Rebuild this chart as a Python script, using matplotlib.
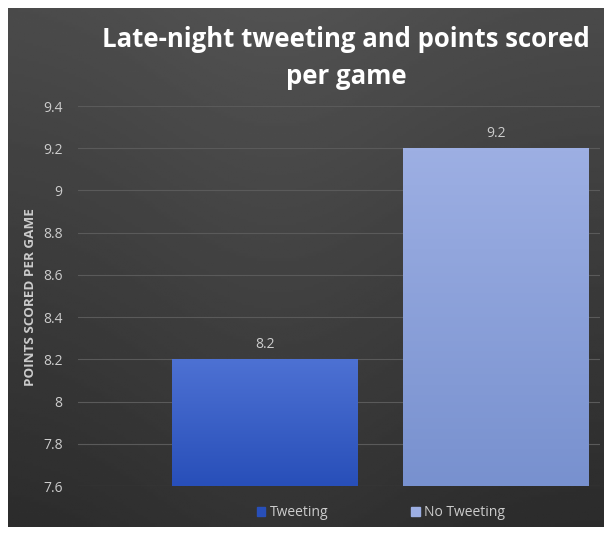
#!/usr/bin/env python3
"""Late-night tweeting vs points scored per game, dark Excel-style bar chart."""

import numpy as np
import matplotlib
matplotlib.use("Agg")
from matplotlib import pyplot as plt
from matplotlib.colors import LinearSegmentedColormap

categories = ['Tweeting', 'No Tweeting']
points = [8.2, 9.2]
y_ticks = [7.6, 7.8, 8.0, 8.2, 8.4, 8.6, 8.8, 9.0, 9.2, 9.4]
y_tick_labels = ['7.6', '7.8', '8', '8.2', '8.4', '8.6', '8.8', '9', '9.2', '9.4']

bar_top = ['#4d71d3', '#9dafe3']
bar_bottom = ['#284fb9', '#7891cf']
text_col = '#cccccc'

plt.rcParams['font.family'] = ['Open Sans', 'DejaVu Sans']

W, H = 608, 534
fig = plt.figure(figsize=(W / 100, H / 100), dpi=100, facecolor='white')

# dark gradient card behind everything
bg = fig.add_axes([8 / W, 7 / H, 596 / W, 519 / H], zorder=0)
yy, xx = np.mgrid[0:1:200j, 0:1:200j]
shade = 0.17 + 0.12 * yy + 0.03 * np.exp(-((xx - 0.45) ** 2) / 0.08)
bg.imshow(shade, cmap='gray', vmin=0, vmax=1, aspect='auto', origin='lower',
          extent=[0, 1, 0, 1])
bg.set_axis_off()

ax = fig.add_axes([78 / W, 1 - 486 / H, 522 / W, 380 / H], zorder=1)
ax.patch.set_alpha(0)

x = np.arange(len(categories))
bars = ax.bar(x, points, width=0.805, color='none', edgecolor='none')
ax.set_ylim(7.6, 9.4)
ax.set_xlim(-0.81, 1.45)

handles = []
for i, b in enumerate(bars):
    cmap = LinearSegmentedColormap.from_list('g', [bar_bottom[i], bar_top[i]])
    grad = np.linspace(0, 1, 100).reshape(-1, 1)
    x0, w, h = b.get_x(), b.get_width(), b.get_height()
    ax.imshow(grad, cmap=cmap, aspect='auto', origin='lower',
              extent=[x0, x0 + w, 7.6, h], zorder=2)
    ax.text(x0 + w / 2, h + 0.07, f'{points[i]:g}', ha='center', va='center',
            color=text_col, fontsize=10)
    handles.append(plt.Rectangle((0, 0), 1, 1, color=[bar_bottom[0], bar_top[1]][i],
                                 label=categories[i]))

ax.set_yticks(y_ticks)
ax.set_yticklabels(y_tick_labels)
ax.set_xticks([])
ax.tick_params(axis='y', length=0, pad=11, labelcolor=text_col, labelsize=10)
ax.grid(axis='y', color='#5a5a5a', linewidth=0.8)
ax.set_axisbelow(True)
for s in ax.spines.values():
    s.set_visible(False)

fig.text(31 / W, 1 - 297 / H, 'POINTS SCORED PER GAME', rotation=90, ha='center',
         va='center', color=text_col, fontsize=9.7, fontweight='bold')

fig.text(346 / W, 1 - 58 / H, 'Late-night tweeting and points scored\nper game',
         ha='center', va='center', color='white', fontsize=18.5, fontweight='bold',
         linespacing=1.45)

fig.legend(handles=handles, loc='center', bbox_to_anchor=(381 / W, 1 - 513 / H),
           ncol=2, frameon=False, fontsize=10, labelcolor=text_col,
           handlelength=0.6, handleheight=0.6, handletextpad=0.3, columnspacing=6.0)

fig.savefig('out.png', dpi=100, facecolor='white')
